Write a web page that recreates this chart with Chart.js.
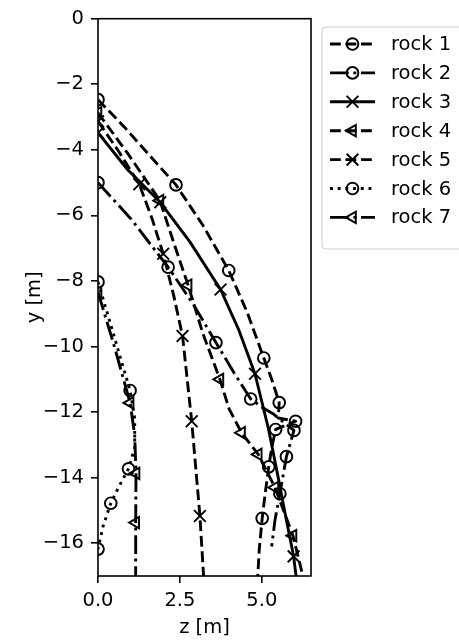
<!DOCTYPE html>
<html>
<head>
<meta charset="utf-8">
<script src="https://cdn.jsdelivr.net/npm/chart.js@4/dist/chart.umd.min.js"></script>
<style>
  html, body { margin: 0; padding: 0; background: #fff; }
  #wrap { width: 459px; height: 643px; }
</style>
</head>
<body>
<div id="wrap"><canvas id="traj" width="459" height="643"></canvas></div>
<script>
const rockNames = ['rock 1', 'rock 2', 'rock 3', 'rock 4', 'rock 5', 'rock 6', 'rock 7'];

// trajectory samples (z across, y down), marks = sample indices that carry a marker
const rock1Z = [0, 0.8, 1.6, 2.38, 3.2, 3.99, 4.55, 5.06, 5.3, 5.53, 5.5, 6.03, 5.42, 5.3, 5.21, 5.1, 5.01, 4.92, 4.86];
const rock1Y = [-2.47, -3.3, -4.2, -5.07, -6.3, -7.68, -8.95, -10.35, -11.0, -11.71, -12.18, -12.28, -12.53, -13.1, -13.67, -14.5, -15.24, -16.2, -17.3];
const rock1Marks = [0, 3, 5, 7, 9, 11, 12, 14, 16];

const rock2Z = [0, 1.0, 2.14, 2.9, 3.6, 4.15, 4.66, 5.0, 5.34, 5.98, 5.75, 5.55, 5.4, 5.3];
const rock2Y = [-5.0, -6.1, -7.58, -8.7, -9.88, -10.8, -11.6, -11.85, -12.05, -12.56, -13.36, -14.49, -15.3, -16.1];
const rock2Marks = [0, 2, 4, 6, 9, 10, 11];

const rock3Z = [0, 0.9, 1.9, 2.8, 3.74, 4.3, 4.79, 5.2, 5.5, 5.75, 5.97, 6.08];
const rock3Y = [-3.48, -4.6, -5.6, -6.8, -8.26, -9.5, -10.83, -12.5, -14.0, -15.3, -16.4, -17.3];
const rock3Marks = [0, 2, 4, 6, 10];

const rock4Z = [0, 0.9, 1.89, 2.3, 2.75, 3.2, 3.72, 4.0, 4.38, 4.89, 5.4, 5.95, 6.3];
const rock4Y = [-2.87, -4.1, -5.55, -6.8, -8.13, -9.6, -11.0, -11.9, -12.63, -13.29, -14.3, -15.77, -17.2];
const rock4Marks = [0, 2, 4, 6, 8, 9, 10, 11];

const rock5Z = [0, 0.6, 1.26, 1.65, 1.99, 2.3, 2.58, 2.86, 3.11, 3.24];
const rock5Y = [-3.13, -4.0, -5.05, -6.1, -7.17, -8.4, -9.68, -12.28, -15.17, -17.3];
const rock5Marks = [0, 2, 4, 6, 7, 8];

const rock6Z = [0, 0.35, 0.7, 0.98, 1.12, 1.12, 0.93, 0.65, 0.39, 0.15, 0];
const rock6Y = [-8.03, -9.2, -10.4, -11.34, -12.2, -13.1, -13.73, -14.25, -14.78, -15.5, -16.18];
const rock6Marks = [0, 3, 6, 8, 10];

const rock7Z = [0, 0.5, 0.98, 1.12, 1.16, 1.15, 1.15];
const rock7Y = [-8.34, -10.0, -11.72, -12.7, -13.87, -15.37, -17.3];
const rock7Marks = [0, 2, 4, 5];

const zTicks = [0, 2.5, 5.0];
const yTicks = [-16, -14, -12, -10, -8, -6, -4, -2, 0];

// line / marker styles (matplotlib-like dashes at lw 1.5pt)
const DASHED = [10.8, 4.7];
const DASHDOT = [18.7, 4.7, 2.9, 4.7];
const DOTTED = [2.9, 4.8];
const SOLID = [];
const styles = [
  { dash: DASHED,  marker: 'circle',   rot: 0,   size: 5.85 },
  { dash: DASHDOT, marker: 'circle',   rot: 0,   size: 5.85 },
  { dash: SOLID,   marker: 'crossRot', rot: 0,   size: 8.3 },
  { dash: DASHED,  marker: 'triangle', rot: -90, size: 6.6 },
  { dash: DASHED,  marker: 'crossRot', rot: 0,   size: 8.3 },
  { dash: DOTTED,  marker: 'circle',   rot: 0,   size: 5.85 },
  { dash: DASHDOT, marker: 'triangle', rot: -90, size: 6.6 }
];

const LW = 2.9;
const MEW = 1.95;
const FONT = 'DejaVu Sans';
const FSIZE = 19.5;

function makeSet(i, zs, ys, marks) {
  const st = styles[i];
  return {
    label: rockNames[i],
    data: zs.map((z, k) => ({ x: z, y: ys[k] })),
    clip: 0,
    borderColor: '#000',
    borderWidth: LW,
    borderDash: st.dash,
    borderCapStyle: 'butt',
    borderJoinStyle: 'round',
    tension: 0,
    fill: false,
    pointStyle: st.marker,
    pointRotation: st.rot,
    pointRadius: zs.map((_, k) => marks.includes(k) ? st.size : 0),
    pointHoverRadius: 0,
    pointBorderColor: '#000',
    pointBackgroundColor: 'rgba(0,0,0,0)',
    pointBorderWidth: MEW
  };
}

const datasets = [
  makeSet(0, rock1Z, rock1Y, rock1Marks),
  makeSet(1, rock2Z, rock2Y, rock2Marks),
  makeSet(2, rock3Z, rock3Y, rock3Marks),
  makeSet(3, rock4Z, rock4Y, rock4Marks),
  makeSet(4, rock5Z, rock5Y, rock5Marks),
  makeSet(5, rock6Z, rock6Y, rock6Marks),
  makeSet(6, rock7Z, rock7Y, rock7Marks)
];

// closed frame round the plot area
const framePlugin = {
  id: 'frame',
  afterDatasetsDraw(chart) {
    const { ctx, chartArea: a } = chart;
    ctx.save();
    ctx.strokeStyle = '#000';
    ctx.lineWidth = 1.6;
    ctx.setLineDash([]);
    ctx.strokeRect(a.left, a.top, a.right - a.left, a.bottom - a.top);
    ctx.restore();
  }
};

function legendMarker(ctx, st, x, y) {
  ctx.save();
  ctx.setLineDash([]);
  ctx.lineWidth = MEW;
  ctx.strokeStyle = '#000';
  ctx.beginPath();
  if (st.marker === 'circle') {
    ctx.arc(x, y, st.size, 0, Math.PI * 2);
  } else if (st.marker === 'crossRot') {
    const d = st.size * Math.SQRT1_2;
    ctx.moveTo(x - d, y - d); ctx.lineTo(x + d, y + d);
    ctx.moveTo(x - d, y + d); ctx.lineTo(x + d, y - d);
  } else {
    const r = st.size;
    ctx.moveTo(x - r, y);
    ctx.lineTo(x + r * 0.5, y - r * 0.866);
    ctx.lineTo(x + r * 0.5, y + r * 0.866);
    ctx.closePath();
  }
  ctx.stroke();
  ctx.restore();
}

// legend box outside the axes, on the right
const legendPlugin = {
  id: 'rockLegend',
  afterDraw(chart) {
    const ctx = chart.ctx;
    const box = { x: 322, y: 27, w: 150, h: 222, r: 4 };
    ctx.save();
    ctx.beginPath();
    ctx.roundRect(box.x, box.y, box.w, box.h, box.r);
    ctx.fillStyle = 'rgba(255,255,255,0.8)';
    ctx.fill();
    ctx.lineWidth = 1;
    ctx.strokeStyle = '#cccccc';
    ctx.stroke();
    const x0 = 330, x1 = 375, tx = 391;
    rockNames.forEach((name, i) => {
      const y = 44 + i * 28.9;
      const st = styles[i];
      ctx.save();
      ctx.beginPath();
      ctx.rect(x0, y - 5, x1 - x0, 10);
      ctx.clip();
      ctx.beginPath();
      ctx.setLineDash(st.dash);
      ctx.lineWidth = LW;
      ctx.strokeStyle = '#000';
      ctx.lineCap = 'butt';
      ctx.moveTo(x0, y);
      ctx.lineTo(x1, y);
      ctx.stroke();
      ctx.restore();
      legendMarker(ctx, st, (x0 + x1) / 2, y);
      ctx.fillStyle = '#000';
      ctx.font = FSIZE + 'px "' + FONT + '"';
      ctx.textBaseline = 'middle';
      ctx.textAlign = 'left';
      ctx.fillText(name, tx, y + 1);
    });
    ctx.restore();
  }
};

Chart.defaults.font.family = FONT;
Chart.defaults.font.size = FSIZE;
Chart.defaults.color = '#000';

new Chart(document.getElementById('traj'), {
  type: 'line',
  data: { datasets: datasets },
  options: {
    responsive: false,
    animation: false,
    devicePixelRatio: 1,
    layout: { padding: { left: 0, top: 17, right: 148, bottom: 0 } },
    plugins: {
      legend: { display: false },
      tooltip: { enabled: false }
    },
    scales: {
      x: {
        type: 'linear',
        min: 0,
        max: 6.5,
        afterBuildTicks: s => { s.ticks = zTicks.map(v => ({ value: v })); },
        afterFit: s => { s.height = 67; },
        border: { display: false },
        grid: { drawOnChartArea: false, drawTicks: true, tickLength: 7, color: '#000', lineWidth: 1.6 },
        ticks: { padding: 6, maxRotation: 0, callback: v => v.toFixed(1) },
        title: { display: true, text: 'z [m]', padding: { top: 0, bottom: 3 } }
      },
      y: {
        type: 'linear',
        min: -17,
        max: 0,
        afterBuildTicks: s => { s.ticks = yTicks.map(v => ({ value: v })); },
        afterFit: s => { s.width = 98; },
        border: { display: false },
        grid: { drawOnChartArea: false, drawTicks: true, tickLength: 7, color: '#000', lineWidth: 1.6 },
        ticks: { padding: 7, callback: v => (v < 0 ? '\u2212' + Math.abs(v) : String(v)) },
        title: { display: true, text: 'y [m]', padding: { top: 23, bottom: 0 } }
      }
    }
  },
  plugins: [framePlugin, legendPlugin]
});
</script>
</body>
</html>
